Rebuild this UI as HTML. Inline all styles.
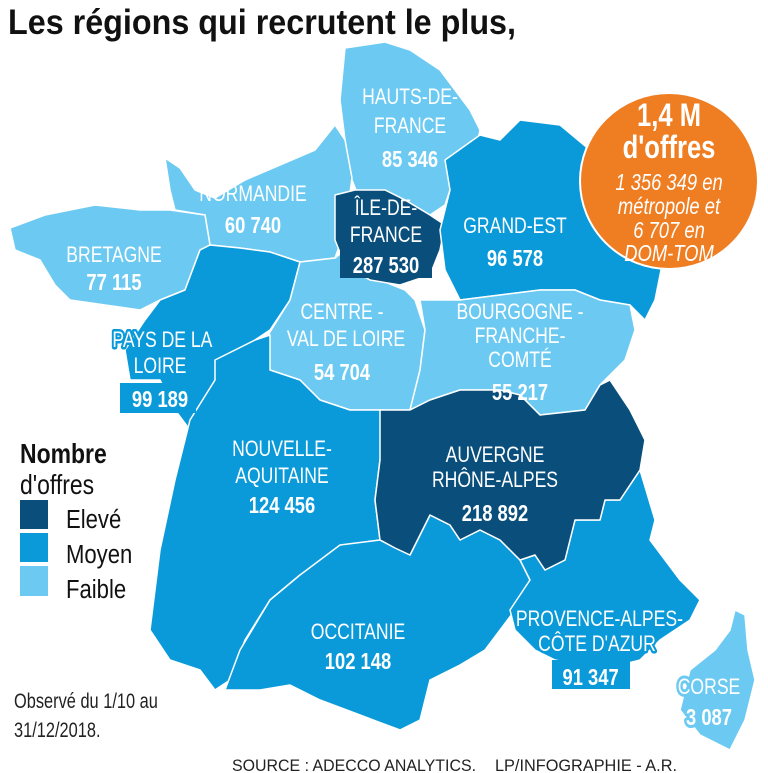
<!DOCTYPE html>
<html><head><meta charset="utf-8"><style>
html,body{margin:0;padding:0;background:#fff;}
svg{display:block;}
text{font-family:"Liberation Sans Narrow","Liberation Sans",sans-serif;}
.l{fill:#fff;font-size:22px;text-anchor:middle;}
.n{fill:#fff;font-size:23px;font-weight:bold;text-anchor:middle;}
.hb{stroke:#0a9ad9;stroke-width:5px;paint-order:stroke;stroke-linejoin:round;}
.hl{stroke:#6ccaf2;stroke-width:6px;paint-order:stroke;stroke-linejoin:round;}
</style></head><body>
<svg width="768" height="773" viewBox="0 0 768 773" xmlns="http://www.w3.org/2000/svg">
<text x="8" y="34" font-size="35" font-weight="bold" fill="#111" textLength="508" lengthAdjust="spacingAndGlyphs">Les régions qui recrutent le plus,</text>
<g stroke="#fff" stroke-width="1.5" stroke-linejoin="round">
<polygon fill="#6ccaf2" points="345,48 385,42 410,50 440,70 470,110 480,130 478,140 455,160 450,190 445,205 430,215 405,200 385,190 358,195 350,175 345,140 340,100"/>
<polygon fill="#6ccaf2" points="165,158 180,168 195,190 215,198 245,180 280,165 315,150 335,125 345,140 352,178 345,230 335,258 300,262 270,252 240,248 210,245 205,215 175,210 170,190"/>
<polygon fill="#6ccaf2" points="10,228 45,215 95,205 140,210 170,210 205,215 210,245 200,250 185,290 160,300 140,310 105,305 70,300 55,285 40,260 15,250"/>
<polygon fill="#0a9ad9" points="210,245 240,248 270,252 300,262 290,300 270,330 255,340 225,360 215,380 222,420 190,430 175,410 160,380 130,380 125,350 145,320 160,300 185,290 200,250"/>
<polygon fill="#6ccaf2" points="300,262 335,258 345,250 360,270 380,280 405,290 415,300 425,330 420,370 410,410 385,410 350,410 320,400 300,380 270,370 265,340 290,300"/>
<polygon fill="#0a4f7c" points="335,195 355,190 385,190 405,200 430,215 445,225 440,250 430,275 400,285 370,280 345,265 335,240"/>
<polygon fill="#0a9ad9" points="445,160 480,135 500,140 520,120 560,125 590,150 620,170 650,200 665,250 655,300 645,320 630,305 600,300 575,290 540,290 500,295 460,300 445,270 440,230 450,190"/>
<polygon fill="#6ccaf2" points="420,300 460,300 500,295 540,290 575,290 600,300 630,305 635,330 625,360 600,385 585,410 540,415 520,395 500,390 460,390 430,400 410,410 420,370 425,330"/>
<polygon fill="#0a9ad9" points="215,360 255,340 270,335 270,370 300,380 320,400 350,410 380,410 390,420 380,460 375,500 380,540 345,545 325,560 300,575 270,600 245,640 230,680 215,690 200,670 170,660 150,630 160,550 175,480 190,420 215,380"/>
<polygon fill="#0a9ad9" points="225,690 240,650 270,600 300,575 340,545 380,540 410,555 430,515 450,525 460,540 480,530 500,540 520,560 530,580 515,610 485,650 460,665 430,680 420,720 400,730 360,715 320,700 290,685 260,690"/>
<polygon fill="#0a9ad9" points="520,560 535,555 545,570 565,560 575,520 600,520 605,500 620,500 640,470 655,520 650,540 680,580 700,600 690,620 660,640 640,660 620,665 580,665 555,660 535,650 515,630 510,610 530,580"/>
<polygon fill="#0a4f7c" points="380,410 410,410 430,400 460,390 500,390 520,395 540,415 585,410 600,385 610,380 630,410 645,440 640,470 620,500 605,500 600,520 575,520 565,560 545,570 535,555 520,560 500,540 480,530 460,540 450,525 430,515 410,555 395,548 380,540 375,500 380,460"/>
<polygon fill="#6ccaf2" points="735,610 745,615 748,650 755,680 745,720 730,750 700,735 680,710 690,670 715,650 730,630"/>
</g>
<rect x="340" y="250" width="92" height="28" fill="#0a4f7c"/>
<rect x="120" y="383" width="76" height="30" fill="#0a9ad9"/>
<rect x="552" y="660" width="78" height="29" fill="#0a9ad9"/>
<ellipse cx="669" cy="181" rx="89" ry="88" fill="#ef7d22" stroke="#fff" stroke-width="2"/>
<g transform="translate(669,0) scale(0.8,1)">
<text class="n" x="0" y="126" style="font-size:32px">1,4 M</text>
<text class="n" x="0" y="158" style="font-size:32px">d'offres</text>
<g fill="#fff" font-style="italic" font-size="23" text-anchor="middle">
<text x="0" y="190">1 356 349 en</text><text x="0" y="214">métropole et</text>
<text x="0" y="238">6 707 en</text><text x="0" y="261">DOM-TOM</text></g>
</g>
<g transform="translate(410,0) scale(0.8,1)"><text class="l" x="0" y="104">HAUTS-DE-</text><text class="l" x="0" y="133">FRANCE</text><text class="n" x="0" y="167">85 346</text></g>
<g transform="translate(253,0) scale(0.8,1)"><text class="l" x="0" y="201">NORMANDIE</text><text class="n" x="0" y="233">60 740</text></g>
<g transform="translate(386,0) scale(0.8,1)"><text class="l" x="0" y="215">ÎLE-DE-</text><text class="l" x="0" y="242">FRANCE</text><text class="n" x="0" y="273">287 530</text></g>
<g transform="translate(515,0) scale(0.8,1)"><text class="l" x="0" y="233">GRAND-EST</text><text class="n" x="0" y="266">96 578</text></g>
<g transform="translate(114,0) scale(0.8,1)"><text class="l" x="0" y="262">BRETAGNE</text><text class="n" x="0" y="290">77 115</text></g>
<g transform="translate(342,0) scale(0.8,1)"><text class="l" x="0" y="319">CENTRE -</text><text class="l" x="5" y="346">VAL DE LOIRE</text><text class="n" x="0" y="380">54 704</text></g>
<g transform="translate(520,0) scale(0.8,1)"><text class="l" x="0" y="319">BOURGOGNE -</text><text class="l" x="0" y="343">FRANCHE-</text><text class="l" x="0" y="367">COMTÉ</text><text class="n" x="0" y="400">55 217</text></g>
<g transform="translate(160,0) scale(0.8,1)"><text class="l hb" x="3" y="347">PAYS DE LA</text><text class="l hb" x="0" y="373">LOIRE</text><text class="n" x="0" y="407">99 189</text></g>
<g transform="translate(282,0) scale(0.8,1)"><text class="l" x="0" y="456">NOUVELLE-</text><text class="l" x="0" y="483">AQUITAINE</text><text class="n" x="0" y="513">124 456</text></g>
<g transform="translate(495,0) scale(0.8,1)"><text class="l" x="0" y="462">AUVERGNE</text><text class="l" x="0" y="487">RHÔNE-ALPES</text><text class="n" x="0" y="521">218 892</text></g>
<g transform="translate(358,0) scale(0.8,1)"><text class="l" x="0" y="639">OCCITANIE</text><text class="n" x="0" y="669">102 148</text></g>
<g transform="translate(597,0) scale(0.8,1)"><text class="l hb" x="3" y="626">PROVENCE-ALPES-</text><text class="l hb" x="0" y="651">CÔTE D'AZUR</text><text class="n" x="-8" y="685">91 347</text></g>
<g transform="translate(709,0) scale(0.8,1)"><text class="l hl" x="0" y="694">CORSE</text><text class="n hl" x="0" y="725">3 087</text></g>
<g transform="translate(20,0) scale(0.82,1)">
<text x="0" y="463" font-size="28" font-weight="bold" fill="#111">Nombre</text>
<text x="0" y="494" font-size="28" fill="#111">d'offres</text>
</g>
<rect x="20" y="500" width="28" height="29" fill="#0a4f7c"/>
<rect x="20" y="533" width="28" height="29" fill="#0a9ad9"/>
<rect x="20" y="566" width="28" height="30" fill="#6ccaf2"/>
<g transform="translate(66,0) scale(0.85,1)">
<text x="0" y="528" font-size="26" fill="#111">Elevé</text>
<text x="0" y="563" font-size="26" fill="#111">Moyen</text>
<text x="0" y="598" font-size="26" fill="#111">Faible</text>
</g>
<g transform="translate(14,0) scale(0.78,1)">
<text x="0" y="708" font-size="21" fill="#222">Observé du 1/10 au</text>
<text x="0" y="737" font-size="21" fill="#222">31/12/2018.</text>
</g>
<text x="232" y="771" font-size="17" fill="#222" textLength="244" lengthAdjust="spacingAndGlyphs">SOURCE : ADECCO ANALYTICS.</text>
<text x="495" y="771" font-size="17" fill="#222" textLength="182" lengthAdjust="spacingAndGlyphs">LP/INFOGRAPHIE - A.R.</text>
</svg>
</body></html>
